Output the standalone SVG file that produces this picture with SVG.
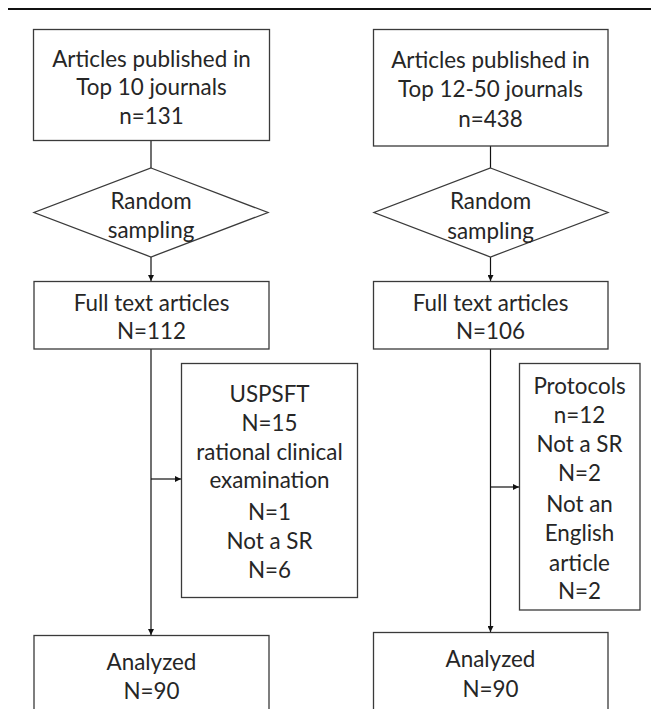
<svg xmlns="http://www.w3.org/2000/svg" width="655" height="709" viewBox="0 0 655 709">
<style>
.box{fill:#fff;stroke:#3a3a3a;stroke-width:1.3}
.ln{fill:none;stroke:#111;stroke-width:1.2}
text{font-family:Lato,"Open Sans","Liberation Sans",sans-serif;font-size:22.4px;fill:#262626;text-anchor:middle;dominant-baseline:central}
</style>
<defs>
<marker id="ah" viewBox="0 0 10 10" refX="10" refY="5" markerWidth="6" markerHeight="6" markerUnits="userSpaceOnUse" orient="auto">
<path d="M0,0 L10,5 L0,10 z" fill="#111"/>
</marker>
</defs>
<rect x="0" y="0" width="655" height="709" fill="#fff"/>
<line x1="8" y1="9" x2="651" y2="9" stroke="#111" stroke-width="2"/>
<g id="connectors">
<line class="ln" x1="151" y1="140" x2="151" y2="168"/>
<line class="ln" x1="151" y1="257" x2="151" y2="281" marker-end="url(#ah)"/>
<line class="ln" x1="151" y1="349" x2="151" y2="635" marker-end="url(#ah)"/>
<line class="ln" x1="151" y1="479" x2="181" y2="479" marker-end="url(#ah)"/>
<line class="ln" x1="490.5" y1="146" x2="490.5" y2="168"/>
<line class="ln" x1="490.5" y1="257" x2="490.5" y2="281" marker-end="url(#ah)"/>
<line class="ln" x1="490.5" y1="349" x2="490.5" y2="632" marker-end="url(#ah)"/>
<line class="ln" x1="490.5" y1="487" x2="519" y2="487" marker-end="url(#ah)"/>
</g>
<g id="left-top">
<rect class="box" x="33.5" y="29.5" width="236" height="111"/>
<text x="151.5" y="58">Articles published in</text>
<text x="151.5" y="86">Top 10 journals</text>
<text x="151.5" y="115">n=131</text>
</g>
<g id="left-sampling">
<polygon class="box" points="151,168 268,212.5 151,257 34,212.5"/>
<text x="151" y="200">Random</text>
<text x="151" y="229">sampling</text>
</g>
<g id="left-fulltext">
<rect class="box" x="34" y="281.5" width="235" height="67.5"/>
<text x="151.5" y="302">Full text articles</text>
<text x="151.5" y="330">N=112</text>
</g>
<g id="left-excluded">
<rect class="box" x="181.5" y="363.5" width="176" height="234"/>
<text x="269.5" y="393">USPSFT</text>
<text x="269.5" y="422">N=15</text>
<text x="269.5" y="451">rational clinical</text>
<text x="269.5" y="479">examination</text>
<text x="269.5" y="511">N=1</text>
<text x="269.5" y="540">Not a SR</text>
<text x="269.5" y="569">N=6</text>
</g>
<g id="left-analyzed">
<rect class="box" x="34" y="635.5" width="235" height="90"/>
<text x="151.5" y="661">Analyzed</text>
<text x="151.5" y="690">N=90</text>
</g>
<g id="right-top">
<rect class="box" x="373.5" y="29.5" width="234.5" height="116.5"/>
<text x="490.5" y="59">Articles published in</text>
<text x="490.5" y="88">Top 12-50 journals</text>
<text x="490.5" y="118">n=438</text>
</g>
<g id="right-sampling">
<polygon class="box" points="490.5,168 608,212.5 490.5,257 374,212.5"/>
<text x="490.5" y="200">Random</text>
<text x="490.5" y="230">sampling</text>
</g>
<g id="right-fulltext">
<rect class="box" x="373.5" y="281.5" width="234.5" height="67.5"/>
<text x="490.5" y="302">Full text articles</text>
<text x="490.5" y="330">N=106</text>
</g>
<g id="right-excluded">
<rect class="box" x="519.5" y="363.5" width="120.5" height="246.5"/>
<text x="579.5" y="385">Protocols</text>
<text x="579.5" y="414">n=12</text>
<text x="579.5" y="443">Not a SR</text>
<text x="579.5" y="472">N=2</text>
<text x="579.5" y="503">Not an</text>
<text x="579.5" y="532">English</text>
<text x="579.5" y="562">article</text>
<text x="579.5" y="590">N=2</text>
</g>
<g id="right-analyzed">
<rect class="box" x="373.5" y="632.5" width="234.5" height="90"/>
<text x="490.5" y="658">Analyzed</text>
<text x="490.5" y="688">N=90</text>
</g>
</svg>
